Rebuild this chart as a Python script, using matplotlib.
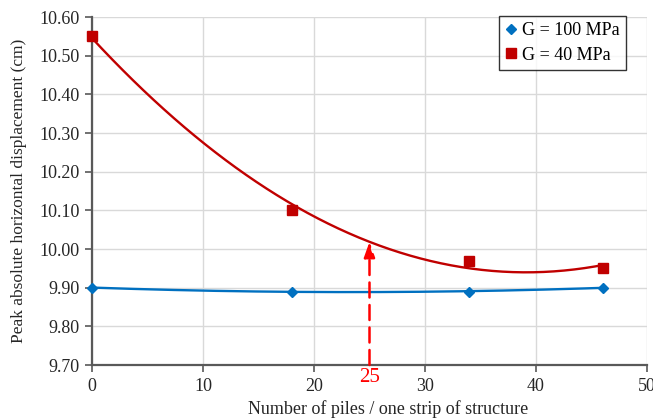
import numpy as np
import matplotlib
matplotlib.use("Agg")
import matplotlib.pyplot as plt

plt.rcParams['font.family'] = ['Liberation Serif', 'DejaVu Serif']

# Peak displacement vs. pile count for two soil shear moduli
piles = [0, 18, 34, 46]
disp_g100 = [9.90, 9.89, 9.89, 9.90]
disp_g40 = [10.55, 10.10, 9.97, 9.95]
marker_x = 25

blue = '#0070C0'
red = '#C00000'
axis_gray = '#595959'
text_color = '#262626'

fig = plt.figure(figsize=(6.53, 4.19), dpi=100)
ax = fig.add_axes([92 / 653, 1 - 365 / 419, 555 / 653, 348 / 419])

# second-order trendlines, as a spreadsheet would draw them
xs = np.linspace(0, 46, 200)
fit_blue = np.polyfit(piles, disp_g100, 2)
fit_red = np.polyfit(piles, disp_g40, 2)
ax.plot(xs, np.polyval(fit_blue, xs), color=blue, lw=1.7, zorder=3)
ax.plot(xs, np.polyval(fit_red, xs), color=red, lw=1.7, zorder=3)

ax.plot(piles, disp_g100, linestyle='none', marker='D', ms=5.5, color=blue,
        label='G = 100 MPa', zorder=4, clip_on=False)
ax.plot(piles, disp_g40, linestyle='none', marker='s', ms=6.5, color=red,
        label='G = 40 MPa', zorder=4, clip_on=False)

# dashed arrow from the axis up to the trendline at 25 piles
y_hit = np.polyval(fit_red, marker_x)
ax.annotate('', xy=(marker_x, y_hit), xytext=(marker_x, 9.70),
            arrowprops=dict(arrowstyle='-|>,head_width=0.25,head_length=0.7',
                            color='red', lw=1.8, linestyle=(0, (6, 3)),
                            mutation_scale=13, shrinkA=0, shrinkB=0),
            zorder=5)
ax.text(marker_x, 9.70 - 0.032, '25', color='red', fontsize=15,
        ha='center', va='center', clip_on=False)

ax.set_xlim(0, 50)
ax.set_ylim(9.70, 10.60)
ax.set_xticks(np.arange(0, 51, 10))
yticks = np.arange(9.70, 10.61, 0.10)
ax.set_yticks(yticks)
ax.set_yticklabels([f'{v:.2f}' for v in yticks])
ax.grid(True, color='#d9d9d9', lw=1)
ax.set_axisbelow(True)

for side in ['top', 'right']:
    ax.spines[side].set_visible(False)
for side in ['left', 'bottom']:
    ax.spines[side].set_color(axis_gray)
    ax.spines[side].set_linewidth(1.6)
ax.tick_params(axis='both', direction='out', length=5, width=1.2,
               color=axis_gray, labelsize=13, labelcolor=text_color, pad=4)

ax.set_xlabel('Number of piles / one strip of structure', fontsize=13,
              color=text_color)
ax.xaxis.set_label_coords(0.533, -0.1)
ax.set_ylabel('Peak absolute horizontal displacement (cm)', fontsize=12.5,
              color=text_color, labelpad=9)

leg = ax.legend(loc='upper right', bbox_to_anchor=(626 / 653, 1 - 16 / 419),
                bbox_transform=fig.transFigure, fontsize=13, frameon=True,
                fancybox=False, handlelength=0.6, handletextpad=0.3,
                borderpad=0.35, labelspacing=0.4, borderaxespad=0)
leg.get_frame().set_edgecolor('black')
leg.get_frame().set_linewidth(1.0)

fig.savefig('out.png', dpi=100)
